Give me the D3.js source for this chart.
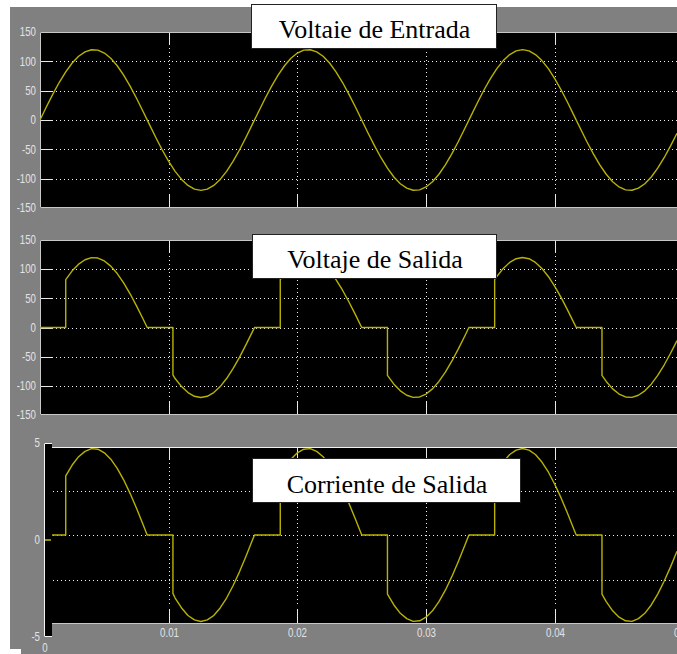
<!DOCTYPE html>
<html><head><meta charset="utf-8">
<script src="https://cdn.jsdelivr.net/npm/d3@7"></script>
<style>
html,body{margin:0;padding:0;background:#fff;}
svg{display:block;}
</style></head>
<body>
<svg id="chart" width="677" height="654"></svg>
<script>
// ---------- DATA ----------
const titles = ["Voltaie de Entrada", "Voltaje de Salida", "Corriente de Salida"];
const voltTicks = [150, 100, 50, 0, -50, -100, -150];
const currTicks = [5, 0, -5];
const currGrid = [2.5, 0, -2.5];
const timeTicks = [0.01, 0.02, 0.03, 0.04, 0.05];
const timeTickLabels = ["0.01", "0.02", "0.03", "0.04", "0.05"];
const sampleStep = 0.0005;
const inputVoltage = [
  0, 22.5, 44.2, 64.3, 82.1, 97.1, 108.6, 116.2, 119.8, 119.1, 114.1, 105.2, 92.5, 76.5, 57.8, 37.1, 15.0,
  -7.5, -29.8, -51.1, -70.5, -87.5, -101.3, -111.6, -117.9, -120, -117.9, -111.6, -101.3, -87.5, -70.5, -51.1, -29.8, -7.5,
  15.0, 37.1, 57.8, 76.5, 92.5, 105.2, 114.1, 119.1, 119.8, 116.2, 108.6, 97.1, 82.1, 64.3, 44.2, 22.5, 0,
  -22.5, -44.2, -64.3, -82.1, -97.1, -108.6, -116.2, -119.8, -119.1, -114.1, -105.2, -92.5, -76.5, -57.8, -37.1, -15.0,
  7.5, 29.8, 51.1, 70.5, 87.5, 101.3, 111.6, 117.9, 120, 117.9, 111.6, 101.3, 87.5, 70.5, 51.1, 29.8, 7.5,
  -15.0, -37.1, -57.8, -76.5, -92.5, -105.2, -114.1, -119.1, -119.8, -116.2, -108.6, -97.1, -82.1, -64.3, -44.2, -22.5
];
const outTime = [
  0, 0.002, 0.002, 0.0025, 0.003, 0.0035, 0.004, 0.0045, 0.005, 0.0055, 0.006, 0.0065, 0.007, 0.0075, 0.008, 0.00833,
  0.01033, 0.01033, 0.0105, 0.011, 0.0115, 0.012, 0.0125, 0.013, 0.0135, 0.014, 0.0145, 0.015, 0.0155, 0.016, 0.0165, 0.01667,
  0.01867, 0.01867, 0.019, 0.0195, 0.02, 0.0205, 0.021, 0.0215, 0.022, 0.0225, 0.023, 0.0235, 0.024, 0.0245, 0.025,
  0.027, 0.027, 0.0275, 0.028, 0.0285, 0.029, 0.0295, 0.03, 0.0305, 0.031, 0.0315, 0.032, 0.0325, 0.033, 0.03333,
  0.03533, 0.03533, 0.0355, 0.036, 0.0365, 0.037, 0.0375, 0.038, 0.0385, 0.039, 0.0395, 0.04, 0.0405, 0.041, 0.0415, 0.04167,
  0.04367, 0.04367, 0.044, 0.0445, 0.045, 0.0455, 0.046, 0.0465, 0.047, 0.0475, 0.048, 0.0485, 0.049, 0.0495
];
const outVoltage = [
  0, 0, 82.1, 97.1, 108.6, 116.2, 119.8, 119.1, 114.1, 105.2, 92.5, 76.5, 57.8, 37.1, 15.0, 0,
  0, -81.1, -87.5, -101.3, -111.6, -117.9, -120, -117.9, -111.6, -101.3, -87.5, -70.5, -51.1, -29.8, -7.5, 0,
  0, 82.1, 92.5, 105.2, 114.1, 119.1, 119.8, 116.2, 108.6, 97.1, 82.1, 64.3, 44.2, 22.5, 0,
  0, -82.1, -97.1, -108.6, -116.2, -119.8, -119.1, -114.1, -105.2, -92.5, -76.5, -57.8, -37.1, -15.0, 0,
  0, 82.1, 87.5, 101.3, 111.6, 117.9, 120, 117.9, 111.6, 101.3, 87.5, 70.5, 51.1, 29.8, 7.5, 0,
  0, -82.1, -92.5, -105.2, -114.1, -119.1, -119.8, -116.2, -108.6, -97.1, -82.1, -64.3, -44.2, -22.5
];
const outCurrent = [
  0, 0, 3.32, 3.93, 4.40, 4.70, 4.85, 4.82, 4.62, 4.26, 3.74, 3.10, 2.34, 1.50, 0.61, 0,
  0, -3.28, -3.54, -4.10, -4.52, -4.77, -4.86, -4.77, -4.52, -4.10, -3.54, -2.85, -2.07, -1.21, -0.30, 0,
  0, 3.32, 3.74, 4.26, 4.62, 4.82, 4.85, 4.70, 4.40, 3.93, 3.32, 2.60, 1.79, 0.91, 0,
  0, -3.32, -3.93, -4.40, -4.70, -4.85, -4.82, -4.62, -4.26, -3.74, -3.10, -2.34, -1.50, -0.61, 0,
  0, 3.32, 3.54, 4.10, 4.52, 4.77, 4.86, 4.77, 4.52, 4.10, 3.54, 2.85, 2.07, 1.21, 0.30, 0,
  0, -3.32, -3.74, -4.26, -4.62, -4.82, -4.85, -4.70, -4.40, -3.93, -3.32, -2.60, -1.79, -0.91
];

// ---------- DRAW ----------
const svg = d3.select("#chart");
const W = 677;
const lineColor = "#b8b204";
const labelFont = "'Liberation Sans Narrow','Arial Narrow','Liberation Sans',Arial,sans-serif";
const serif = "'Liberation Serif','Times New Roman',serif";

// gray scope background
svg.append("rect").attr("x", 10).attr("y", 7).attr("width", W - 10).attr("height", 642).attr("fill", "#808080");
svg.append("rect").attr("x", 21).attr("y", 640).attr("width", W - 21).attr("height", 14).attr("fill", "#808080");

const x = d3.scaleLinear().domain([0, 0.0495]).range([40, 677]);

const inputData = inputVoltage.map((v, i) => [i * sampleStep, v]);
const outVData = outTime.map((t, i) => [t, outVoltage[i]]);
const outIData = outTime.map((t, i) => [t, outCurrent[i]]);

function label(g, xx, yy, txt, anchor) {
  g.append("text").attr("transform", `translate(${xx},${yy}) scale(0.88,1.08)`).attr("dy", "0.36em")
    .attr("text-anchor", anchor).attr("font-family", labelFont).attr("font-size", 11)
    .attr("fill", "#e4e4e4").text(txt);
}

function dotted(g, x1, y1, x2, y2) {
  g.append("line").attr("x1", x1).attr("y1", y1).attr("x2", x2).attr("y2", y2)
    .attr("stroke", "#f0f0f0").attr("stroke-width", 1).attr("stroke-dasharray", "1,3");
}

function voltPanel(top, bottom, data, id) {
  const y = d3.scaleLinear().domain([-150, 150]).range([bottom, top]);
  const g = svg.append("g");
  g.append("rect").attr("x", 40).attr("y", top).attr("width", W - 40).attr("height", bottom - top).attr("fill", "#000");
  voltTicks.filter(v => v !== 150 && v !== -150).forEach(v => {
    const yy = Math.round(y(v)) + 0.5;
    g.append("line").attr("x1", 40).attr("x2", 53).attr("y1", yy).attr("y2", yy).attr("stroke", "#e8e8e8");
    dotted(g, 56, yy, W, yy);
  });
  timeTicks.forEach(t => {
    const xx = Math.round(x(t)) + 0.5;
    if (xx > W) return;
    g.append("line").attr("x1", xx).attr("x2", xx).attr("y1", top).attr("y2", top + 13).attr("stroke", "#e8e8e8");
    g.append("line").attr("x1", xx).attr("x2", xx).attr("y1", bottom - 14).attr("y2", bottom).attr("stroke", "#e8e8e8");
    dotted(g, xx, top + 16, xx, bottom - 16);
  });
  g.append("path").attr("d", `M${W},${top + 0.5}H40.5V${bottom - 0.5}H${W}`).attr("fill", "none").attr("stroke", "#c8c8c8");
  voltTicks.forEach(v => label(g, 36, y(v), v, "end"));
  const clip = "clip" + id;
  svg.append("clipPath").attr("id", clip).append("rect").attr("x", 40).attr("y", top).attr("width", W - 40).attr("height", bottom - top);
  g.append("path").datum(data).attr("clip-path", `url(#${clip})`)
    .attr("d", d3.line().x(d => x(d[0])).y(d => y(d[1])))
    .attr("fill", "none").attr("stroke", lineColor).attr("stroke-width", 1.4).attr("stroke-linejoin", "round");
}

voltPanel(32, 208, inputData, "a");
voltPanel(240, 415, outVData, "b");

// third panel: current
(function () {
  const top = 447, bottom = 623, left = 51;
  const y = d3.scaleLinear().domain([-5, 5]).range([624, 446]);
  const yOuter = d3.scaleLinear().domain([-5, 5]).range([637, 443]);
  const g = svg.append("g");
  g.append("rect").attr("x", 44).attr("y", 443).attr("width", 8).attr("height", 194).attr("fill", "#000");
  g.append("path").attr("d", "M52,443.5H44.5V636.5H52").attr("fill", "none").attr("stroke", "#f4f4f4");
  g.append("line").attr("x1", 45).attr("x2", 52).attr("y1", yOuter(0)).attr("y2", yOuter(0)).attr("stroke", lineColor).attr("stroke-width", 1.6);
  currTicks.forEach(v => label(g, 40, yOuter(v), v, "end"));
  label(g, 45, 648, "0", "middle");
  g.append("rect").attr("x", left).attr("y", top).attr("width", W - left).attr("height", bottom - top).attr("fill", "#000");
  currGrid.forEach(v => {
    const yy = Math.round(y(v)) + 0.5;
    dotted(g, 53, yy, W, yy);
  });
  timeTicks.forEach((t, i) => {
    const xx = Math.round(x(t)) + 0.5;
    label(g, xx, 633, timeTickLabels[i], "middle");
    if (xx > W) return;
    g.append("line").attr("x1", xx).attr("x2", xx).attr("y1", top).attr("y2", top + 13).attr("stroke", "#e8e8e8");
    g.append("line").attr("x1", xx).attr("x2", xx).attr("y1", bottom - 14).attr("y2", bottom).attr("stroke", "#e8e8e8");
    dotted(g, xx, top + 16, xx, bottom - 16);
  });
  g.append("line").attr("x1", 52).attr("x2", W).attr("y1", top + 0.5).attr("y2", top + 0.5).attr("stroke", "#f0f0f0");
  g.append("line").attr("x1", 52).attr("x2", W).attr("y1", bottom + 0.5).attr("y2", bottom + 0.5).attr("stroke", "#c8c8c8");
  svg.append("clipPath").attr("id", "clipc").append("rect").attr("x", left + 1).attr("y", top).attr("width", W - left).attr("height", bottom - top);
  g.append("path").datum(outIData).attr("clip-path", "url(#clipc)")
    .attr("d", d3.line().x(d => x(d[0])).y(d => y(d[1])))
    .attr("fill", "none").attr("stroke", lineColor).attr("stroke-width", 1.4).attr("stroke-linejoin", "round");
})();

// title boxes
const boxes = [
  { x: 251, y: 4.5, w: 245, h: 44, base: 38 },
  { x: 252, y: 234.5, w: 244, h: 44, base: 268 },
  { x: 252, y: 458.5, w: 268, h: 44, base: 493 }
];
boxes.forEach((b, i) => {
  svg.append("rect").attr("x", b.x + 0.5).attr("y", b.y).attr("width", b.w).attr("height", b.h)
    .attr("fill", "#fff").attr("stroke", "#222").attr("stroke-width", 1);
  svg.append("text").attr("x", b.x + b.w / 2 + 1).attr("y", b.base).attr("text-anchor", "middle")
    .attr("font-family", serif).attr("font-size", 26).attr("fill", "#000").text(titles[i]);
});
</script>
</body></html>
